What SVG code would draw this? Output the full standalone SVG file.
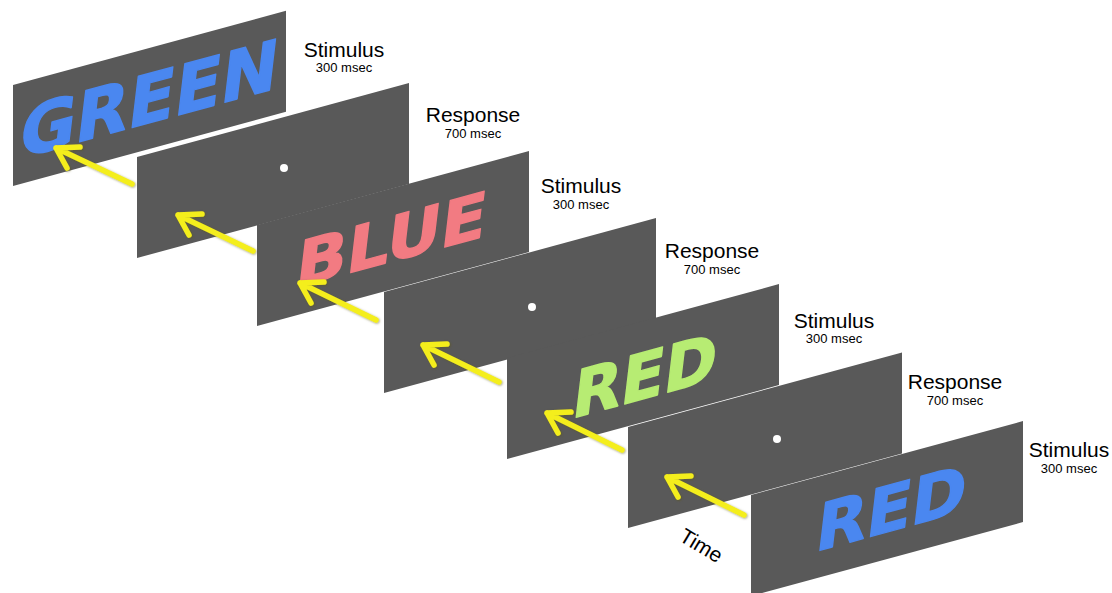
<svg xmlns="http://www.w3.org/2000/svg" width="1112" height="593" viewBox="0 0 1112 593">
<defs>
<style>
.panel{fill:#595959}
.word{font-family:"DejaVu Sans",Verdana,sans-serif;font-weight:bold;stroke-width:1.4;stroke-linejoin:round}
.dot{fill:#ffffff}
.lbl{font-family:"Liberation Sans",Arial,sans-serif;fill:#000;text-anchor:middle}
.t{font-size:21px}
.s{font-size:13px}
.arrow{fill:none;stroke:#f4ee1c;stroke-width:5.5;stroke-linecap:round;stroke-linejoin:round}
</style>
<filter id="sh" x="-20%" y="-20%" width="140%" height="140%">
<feDropShadow dx="0.8" dy="0.8" stdDeviation="1" flood-color="#5e5a10" flood-opacity="0.55"/>
</filter>
</defs>
<rect width="1112" height="593" fill="#ffffff"/>

<g id="panel1">
<g transform="translate(13,85) skewY(-15.2)">
<rect class="panel" width="273" height="101"/>
<text class="word" transform="skewX(-7)" x="14" y="75" font-size="68" fill="#4a87f0" stroke="#4a87f0" textLength="258" lengthAdjust="spacingAndGlyphs">GREEN</text>
</g>
</g>

<g id="panel2">
<g transform="translate(137,157) skewY(-15.2)">
<rect class="panel" width="272" height="101"/>
</g>
<circle class="dot" cx="284" cy="168" r="4"/>
</g>

<g id="panel3">
<g transform="translate(257,225) skewY(-15.2)">
<rect class="panel" width="272" height="101"/>
<text class="word" transform="skewX(-7)" x="46" y="73" font-size="62" fill="#f27b82" stroke="#f27b82" textLength="190" lengthAdjust="spacingAndGlyphs">BLUE</text>
</g>
</g>

<g id="panel4">
<g transform="translate(384,292) skewY(-15.2)">
<rect class="panel" width="272" height="101"/>
</g>
<circle class="dot" cx="532" cy="307" r="4"/>
</g>

<g id="panel5">
<g transform="translate(507,358) skewY(-15.2)">
<rect class="panel" width="272" height="101"/>
<text class="word" transform="skewX(-7)" x="73" y="78" font-size="64" fill="#b7ec73" stroke="#b7ec73" textLength="144" lengthAdjust="spacingAndGlyphs">RED</text>
</g>
</g>

<g id="panel6">
<g transform="translate(628,427) skewY(-15.2)">
<rect class="panel" width="274" height="101"/>
</g>
<circle class="dot" cx="777" cy="439" r="4"/>
</g>

<g id="panel7">
<g transform="translate(751,495) skewY(-15.2)">
<rect class="panel" width="272" height="101"/>
<text class="word" transform="skewX(-7)" x="72" y="74" font-size="64" fill="#4a87f0" stroke="#4a87f0" textLength="150" lengthAdjust="spacingAndGlyphs">RED</text>
</g>
</g>

<g id="connectors" filter="url(#sh)">
<path class="arrow" d="M132,184 L56,148 M80,147 L56,148 L67,168"/>
<path class="arrow" d="M253,251 L178,215 M202,214 L178,215 L189,235"/>
<path class="arrow" d="M376,320 L300,283 M324,282 L300,283 L311,303"/>
<path class="arrow" d="M499,382 L423,345 M447,344 L423,345 L434,365"/>
<path class="arrow" d="M622,450 L547,413 M571,412 L547,413 L558,433"/>
<path class="arrow" d="M744,515 L667,477 M691,476 L667,477 L678,497"/>
</g>

<g id="labels">
<text class="lbl t" x="344" y="57">Stimulus</text>
<text class="lbl s" x="344" y="72">300 msec</text>
<text class="lbl t" x="473" y="122">Response</text>
<text class="lbl s" x="473" y="138">700 msec</text>
<text class="lbl t" x="581" y="193">Stimulus</text>
<text class="lbl s" x="581" y="209">300 msec</text>
<text class="lbl t" x="712" y="258">Response</text>
<text class="lbl s" x="712" y="274">700 msec</text>
<text class="lbl t" x="834" y="328">Stimulus</text>
<text class="lbl s" x="834" y="343">300 msec</text>
<text class="lbl t" x="955" y="389">Response</text>
<text class="lbl s" x="955" y="405">700 msec</text>
<text class="lbl t" x="1069" y="457">Stimulus</text>
<text class="lbl s" x="1069" y="473">300 msec</text>
<text class="lbl" font-size="21" transform="translate(678,540) rotate(31)" style="text-anchor:start">Time</text>
</g>
</svg>
